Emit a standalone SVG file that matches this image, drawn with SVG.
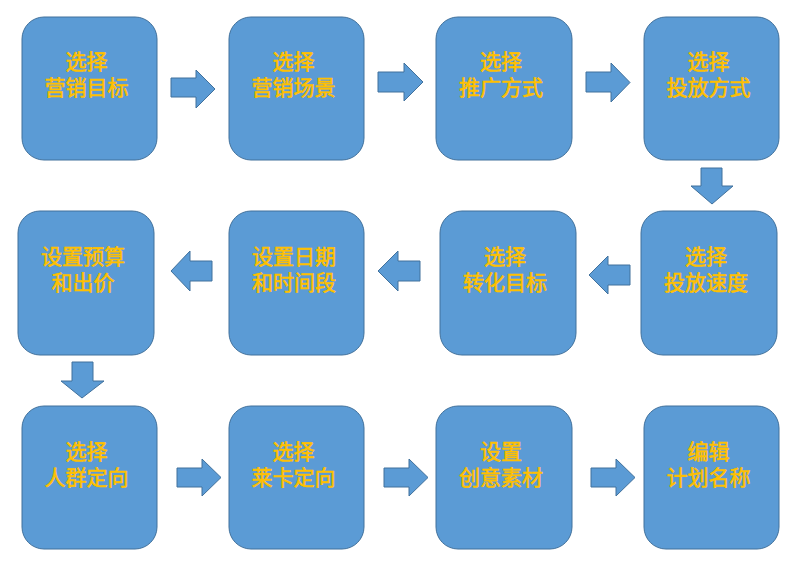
<svg xmlns="http://www.w3.org/2000/svg" width="794" height="567" viewBox="0 0 794 567">
<style>
.box{fill:#5B9BD5;stroke:#41719C;stroke-width:1}
.arr{fill:#5B9BD5;stroke:#41719C;stroke-width:1;stroke-linejoin:miter}
.t{font-family:"Noto Sans CJK SC","Noto Sans",sans-serif;font-size:21px;font-weight:normal;fill:#FFC000;stroke:#FFC000;stroke-width:0.6;text-anchor:middle}
</style>
<rect width="794" height="567" fill="#FFFFFF"/>
<g id="connectors">
<polygon class="arr" points="171,78 196,78 196,70 215,89 196,108 196,97 171,97"/>
<polygon class="arr" points="378,72 404,72 404,63 423,82 404,101 404,92 378,92"/>
<polygon class="arr" points="586,72 611,72 611,63 630,82.5 611,102 611,92 586,92"/>
<polygon class="arr" points="701,168 722,168 722,186 733,186 712,204 691,186 701,186"/>
<polygon class="arr" points="630,265 608,265 608,256 589,275 608,294 608,285 630,285"/>
<polygon class="arr" points="420,261 398,261 398,251 378,271 398,291 398,281 420,281"/>
<polygon class="arr" points="212,261 190,261 190,251 171,271 190,291 190,281 212,281"/>
<polygon class="arr" points="72,362 93,362 93,381 104,381 82,398 61,381 72,381"/>
<polygon class="arr" points="177,468 202,468 202,459 221,477.5 202,496 202,487 177,487"/>
<polygon class="arr" points="384,468 409,468 409,459 428,477.5 409,496 409,487 384,487"/>
<polygon class="arr" points="591,468 616,468 616,459 635,477.5 616,496 616,487 591,487"/>
</g>
<g id="n1"><rect class="box" x="22" y="17" width="135" height="143" rx="22"/><text class="t" x="86.5" y="69">选择</text><text class="t" x="86.5" y="95">营销目标</text></g>
<g id="n2"><rect class="box" x="229" y="17" width="135" height="143" rx="22"/><text class="t" x="293.5" y="69">选择</text><text class="t" x="293.5" y="95">营销场景</text></g>
<g id="n3"><rect class="box" x="436" y="17" width="136" height="143" rx="22"/><text class="t" x="501" y="69">选择</text><text class="t" x="501" y="95">推广方式</text></g>
<g id="n4"><rect class="box" x="644" y="17" width="135" height="143" rx="22"/><text class="t" x="708.5" y="69">选择</text><text class="t" x="708.5" y="95">投放方式</text></g>
<g id="n5"><rect class="box" x="641" y="211" width="136" height="144" rx="22"/><text class="t" x="706" y="264">选择</text><text class="t" x="706" y="290">投放速度</text></g>
<g id="n6"><rect class="box" x="440" y="211" width="136" height="144" rx="22"/><text class="t" x="505" y="264">选择</text><text class="t" x="505" y="290">转化目标</text></g>
<g id="n7"><rect class="box" x="229" y="211" width="135" height="144" rx="22"/><text class="t" x="294" y="264">设置日期</text><text class="t" x="294" y="290">和时间段</text></g>
<g id="n8"><rect class="box" x="18" y="211" width="136" height="144" rx="22"/><text class="t" x="83" y="264">设置预算</text><text class="t" x="83" y="290">和出价</text></g>
<g id="n9"><rect class="box" x="22" y="406" width="135" height="143" rx="22"/><text class="t" x="86.5" y="459">选择</text><text class="t" x="86.5" y="485">人群定向</text></g>
<g id="n10"><rect class="box" x="229" y="406" width="135" height="143" rx="22"/><text class="t" x="293.5" y="459">选择</text><text class="t" x="293.5" y="485">莱卡定向</text></g>
<g id="n11"><rect class="box" x="436" y="406" width="136" height="143" rx="22"/><text class="t" x="501" y="459">设置</text><text class="t" x="501" y="485">创意素材</text></g>
<g id="n12"><rect class="box" x="644" y="406" width="135" height="143" rx="22"/><text class="t" x="708.5" y="459">编辑</text><text class="t" x="708.5" y="485">计划名称</text></g>
</svg>
